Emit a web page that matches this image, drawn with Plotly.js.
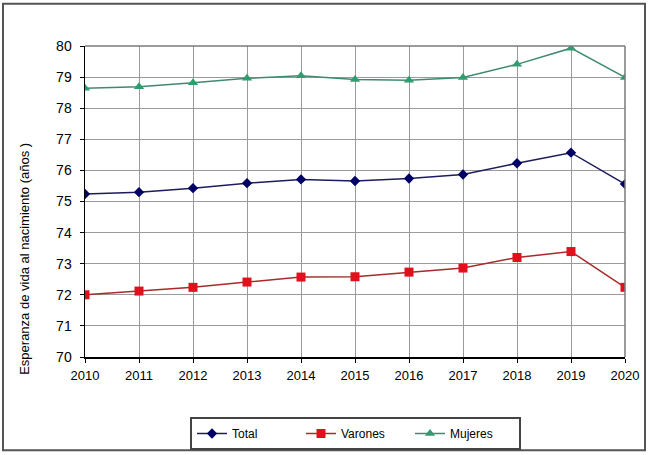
<!DOCTYPE html>
<html>
<head>
<meta charset="utf-8">
<script src="https://cdn.plot.ly/plotly-3.0.1.min.js"></script>
<style>
html,body{margin:0;padding:0;background:#fff;}
#chart{width:648px;height:455px;}
</style>
</head>
<body>
<div id="chart"></div>
<script>
const years = [2010, 2011, 2012, 2013, 2014, 2015, 2016, 2017, 2018, 2019, 2020];
const total = [75.24, 75.30, 75.43, 75.59, 75.71, 75.66, 75.74, 75.87, 76.23, 76.57, 75.56];
const varones = [72.00, 72.12, 72.24, 72.41, 72.57, 72.58, 72.73, 72.86, 73.20, 73.39, 72.24];
const mujeres = [78.64, 78.69, 78.82, 78.96, 79.04, 78.92, 78.90, 78.99, 79.41, 79.93, 78.99];
const yTicks = [70, 71, 72, 73, 74, 75, 76, 77, 78, 79, 80];
const yTitle = "Esperanza de vida al nacimiento (años )";

const font = "Liberation Sans, Arial, sans-serif";

const traces = [
  {x: years, y: total, name: "Total", type: "scatter", mode: "lines+markers",
   line: {color: "#1c1c5c", width: 1.5},
   marker: {symbol: "diamond", size: 8, color: "#000066"}},
  {x: years, y: varones, name: "Varones", type: "scatter", mode: "lines+markers",
   line: {color: "#a82a2a", width: 1.5},
   marker: {symbol: "square", size: 9, color: "#e0101c"}},
  {x: years, y: mujeres, name: "Mujeres", type: "scatter", mode: "lines+markers",
   line: {color: "#3f8a6e", width: 1.5},
   marker: {symbol: "triangle-up", size: 9, color: "#2e9e70"}}
];

const layout = {
  width: 648, height: 455,
  margin: {l: 85, r: 23, t: 45.5, b: 97.5, autoexpand: false},
  paper_bgcolor: "#fff", plot_bgcolor: "#fff",
  font: {family: font, size: 13, color: "#000"},
  showlegend: true,
  xaxis: {
    range: [2010, 2020], tickmode: "array", tickvals: years,
    ticktext: years.map(String),
    showgrid: true, gridcolor: "#9a9a9a", gridwidth: 1,
    showline: true, linecolor: "#000", linewidth: 1.5,
    ticks: "outside", ticklen: 4, tickcolor: "#000",
    ticklabelstandoff: 2,
    tickfont: {family: font, size: 13, color: "#000"},
    zeroline: false, fixedrange: true
  },
  yaxis: {
    range: [70, 80], tickmode: "array", tickvals: yTicks,
    showgrid: true, gridcolor: "#9a9a9a", gridwidth: 1,
    showline: true, linecolor: "#000", linewidth: 1.5,
    ticks: "outside", ticklen: 4, tickcolor: "#000",
    ticklabelstandoff: 5,
    tickfont: {family: font, size: 14, color: "#000"},
    zeroline: false, fixedrange: true
  },
  legend: {
    orientation: "h", xref: "container", yref: "container",
    x: 190 / 648, xanchor: "left", y: 1 - 417 / 455, yanchor: "top",
    bordercolor: "#444", borderwidth: 2, bgcolor: "#fff",
    font: {family: font, size: 12, color: "#000"},
    entrywidth: 64
  },
  annotations: [{
    text: yTitle, textangle: -90, xref: "paper", yref: "paper",
    x: (25 - 85) / 540, y: (357.5 - 259) / 312, xanchor: "center", yanchor: "middle",
    showarrow: false, font: {family: font, size: 13, color: "#000"}
  }],
  shapes: [
    {type: "line", xref: "paper", yref: "paper", x0: 0, x1: 1, y0: 1, y1: 1,
     line: {color: "#7a7a7a", width: 1.5}},
    {type: "line", xref: "paper", yref: "paper", x0: 1, x1: 1, y0: 0, y1: 1,
     line: {color: "#7a7a7a", width: 1.5}},
    {type: "rect", xref: "paper", yref: "paper",
     x0: (3 - 85) / 540, x1: (645 - 85) / 540,
     y0: (357.5 - 451) / 312, y1: (357.5 - 3) / 312,
     line: {color: "#555", width: 2}, fillcolor: "rgba(0,0,0,0)"}
  ]
};

Plotly.newPlot("chart", traces, layout, {displayModeBar: false, staticPlot: true});
</script>
</body>
</html>
